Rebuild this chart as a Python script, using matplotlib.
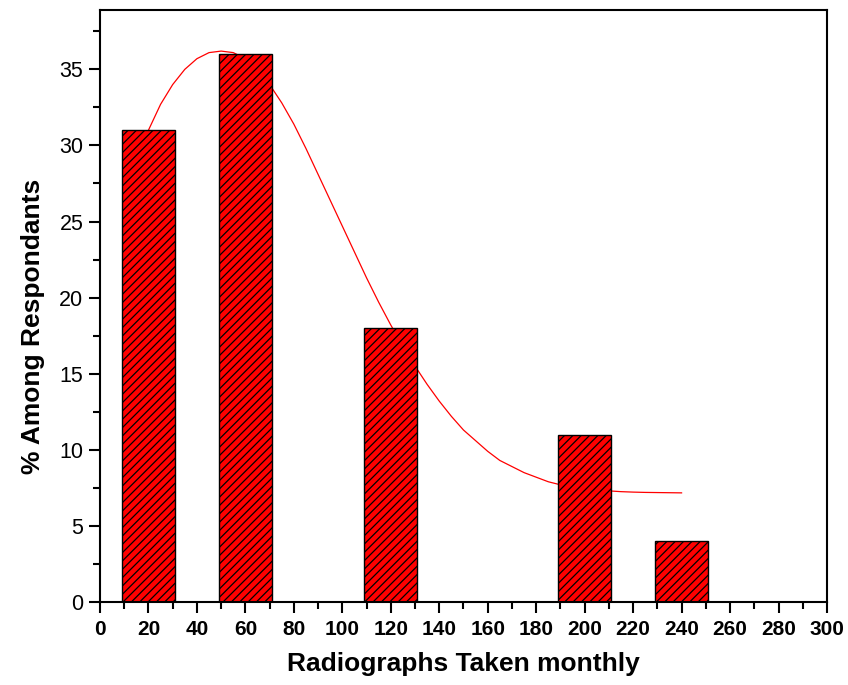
import matplotlib
matplotlib.use("Agg")
import matplotlib.pyplot as plt
from matplotlib.ticker import MultipleLocator

plt.rcParams["font.family"] = ["Liberation Sans", "DejaVu Sans"]
plt.rcParams["hatch.linewidth"] = 0.9

# bar data (radiographs per month vs % of respondents)
bin_centers = [20, 60, 120, 200, 240]
percent = [31, 36, 18, 11, 4]

# fitted curve
curve_x = [20, 25, 30, 35, 40, 45, 50, 55, 60, 65, 70, 75, 80, 85, 90, 95,
           100, 105, 110, 115, 120, 125, 130, 135, 140, 145, 150, 155, 160,
           165, 170, 175, 180, 185, 190, 195, 200, 205, 210, 215, 220, 225,
           230, 235, 240]
curve_y = [31.0, 32.7, 34.0, 35.0, 35.7, 36.1, 36.2, 36.1, 35.7, 35.0, 34.0,
           32.8, 31.4, 29.8, 28.1, 26.4, 24.7, 23.0, 21.3, 19.7, 18.2, 16.8,
           15.5, 14.3, 13.2, 12.2, 11.3, 10.6, 9.9, 9.3, 8.9, 8.5, 8.2, 7.9,
           7.7, 7.55, 7.45, 7.35, 7.3, 7.25, 7.22, 7.2, 7.19, 7.18, 7.17]

fig = plt.figure(figsize=(8.48, 6.85), dpi=100)
ax = fig.add_axes([0.1179, 0.1212, 0.8573, 0.8642])

ax.plot(curve_x, curve_y, color="red", lw=0.9, zorder=1)
ax.bar(bin_centers, percent, width=22, color="red", edgecolor="black",
       linewidth=1.0, hatch="////", zorder=2)

ax.set_xlim(0, 300)
ax.set_ylim(0, 38.9)
ax.xaxis.set_major_locator(MultipleLocator(20))
ax.xaxis.set_minor_locator(MultipleLocator(10))
ax.yaxis.set_major_locator(MultipleLocator(5))
ax.yaxis.set_minor_locator(MultipleLocator(2.5))

ax.tick_params(which="both", direction="out", width=1.5, top=False, right=False)
ax.tick_params(which="major", length=8)
ax.tick_params(which="minor", length=5)
ax.tick_params(axis="x", labelsize=15, pad=5)
ax.tick_params(axis="y", labelsize=15.5, pad=4)
for lab in ax.get_xticklabels():
    lab.set_fontweight("bold")
for sp in ax.spines.values():
    sp.set_linewidth(1.5)

ax.set_xlabel("Radiographs Taken monthly", fontsize=19, fontweight="bold", labelpad=9)
ax.set_ylabel("% Among Respondants", fontsize=19, fontweight="bold")
ax.yaxis.set_label_coords(-0.075, 0.466)

fig.savefig("out.png", dpi=100)
